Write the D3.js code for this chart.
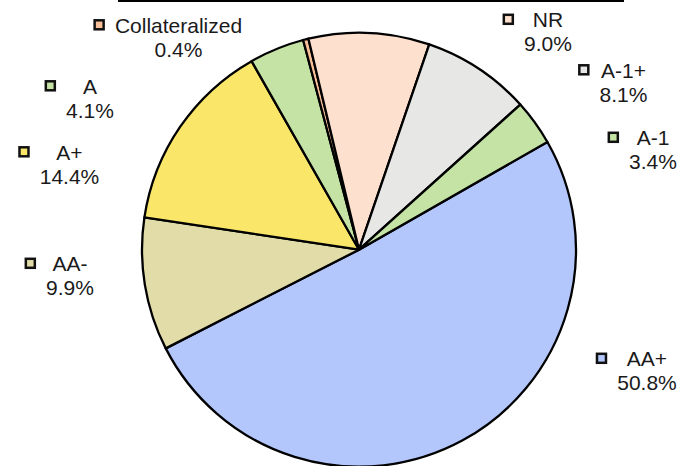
<!DOCTYPE html>
<html>
<head>
<meta charset="utf-8">
<script src="https://cdn.jsdelivr.net/npm/d3@7"></script>
<style>
  html, body { margin: 0; padding: 0; background: #fff; }
  svg { display: block; }
  text { font-family: "Liberation Sans", Arial, sans-serif; }
</style>
</head>
<body>
<svg id="chart" width="679" height="466"></svg>
<script>
// Rating categories, clockwise from the first slice
const categories = ["AA+", "AA-", "A+", "A", "Collateralized", "NR", "A-1+", "A-1"];
// Share of the portfolio in percent
const shares = [50.8, 9.9, 14.4, 4.1, 0.4, 9.0, 8.1, 3.4];
// Slice fills
const fills = ["#b3c7fd", "#e2dda8", "#fae76a", "#c5e3a5", "#f9c09a", "#fde0cd", "#e7e8e6", "#c5e3a5"];
// Label block anchors: [centre x, first-line baseline]
const labelSpots = [
  [647, 366], [70, 271], [69.5, 159.5], [90, 93.5],
  [178.5, 32.5], [548, 27], [623.5, 77.5], [653, 145]
];

const W = 679, H = 466;
const cx = 359, cy = 249.7, R = 217;
const start = 60.25 * Math.PI / 180;

const svg = d3.select("#chart");

// rule across the top
svg.append("line")
  .attr("x1", 118).attr("x2", 624)
  .attr("y1", 1).attr("y2", 1)
  .attr("stroke", "#000").attr("stroke-width", 2);

const rows = categories.map((c, i) => ({ name: c, value: shares[i], fill: fills[i], spot: labelSpots[i] }));

const pie = d3.pie().sort(null).value(d => d.value)
  .startAngle(start).endAngle(start + 2 * Math.PI);
const arc = d3.arc().innerRadius(0).outerRadius(R);

const g = svg.append("g").attr("transform", `translate(${cx},${cy})`);
g.selectAll("path.slice")
  .data(pie(rows))
  .join("path")
  .attr("class", "slice")
  .attr("d", arc)
  .attr("fill", d => d.data.fill)
  .attr("stroke", "#000")
  .attr("stroke-width", 2.3)
  .attr("stroke-linejoin", "round");

// data labels: name, percentage, with a colour key to the left
const fs = 21, lineGap = 24.3;
const labels = svg.append("g");
rows.forEach(d => {
  const [x, y] = d.spot;
  const lg = labels.append("g");
  const t1 = lg.append("text")
    .attr("x", x).attr("y", y)
    .attr("text-anchor", "middle")
    .attr("font-size", fs).attr("fill", "#1a1a1a")
    .text(d.name);
  const t2 = lg.append("text")
    .attr("x", x).attr("y", y + lineGap)
    .attr("text-anchor", "middle")
    .attr("font-size", fs).attr("fill", "#1a1a1a")
    .text(d.value.toFixed(1) + "%");
  const w = Math.max(t1.node().getComputedTextLength(), t2.node().getComputedTextLength());
  const left = x - w / 2;
  const s = 9;
  lg.append("rect")
    .attr("x", left - 10 - s - 1.25)
    .attr("y", y - 7.7 - s / 2)
    .attr("width", s).attr("height", s)
    .attr("fill", d.fill)
    .attr("stroke", "#111").attr("stroke-width", 2.5);
});
</script>
</body>
</html>
